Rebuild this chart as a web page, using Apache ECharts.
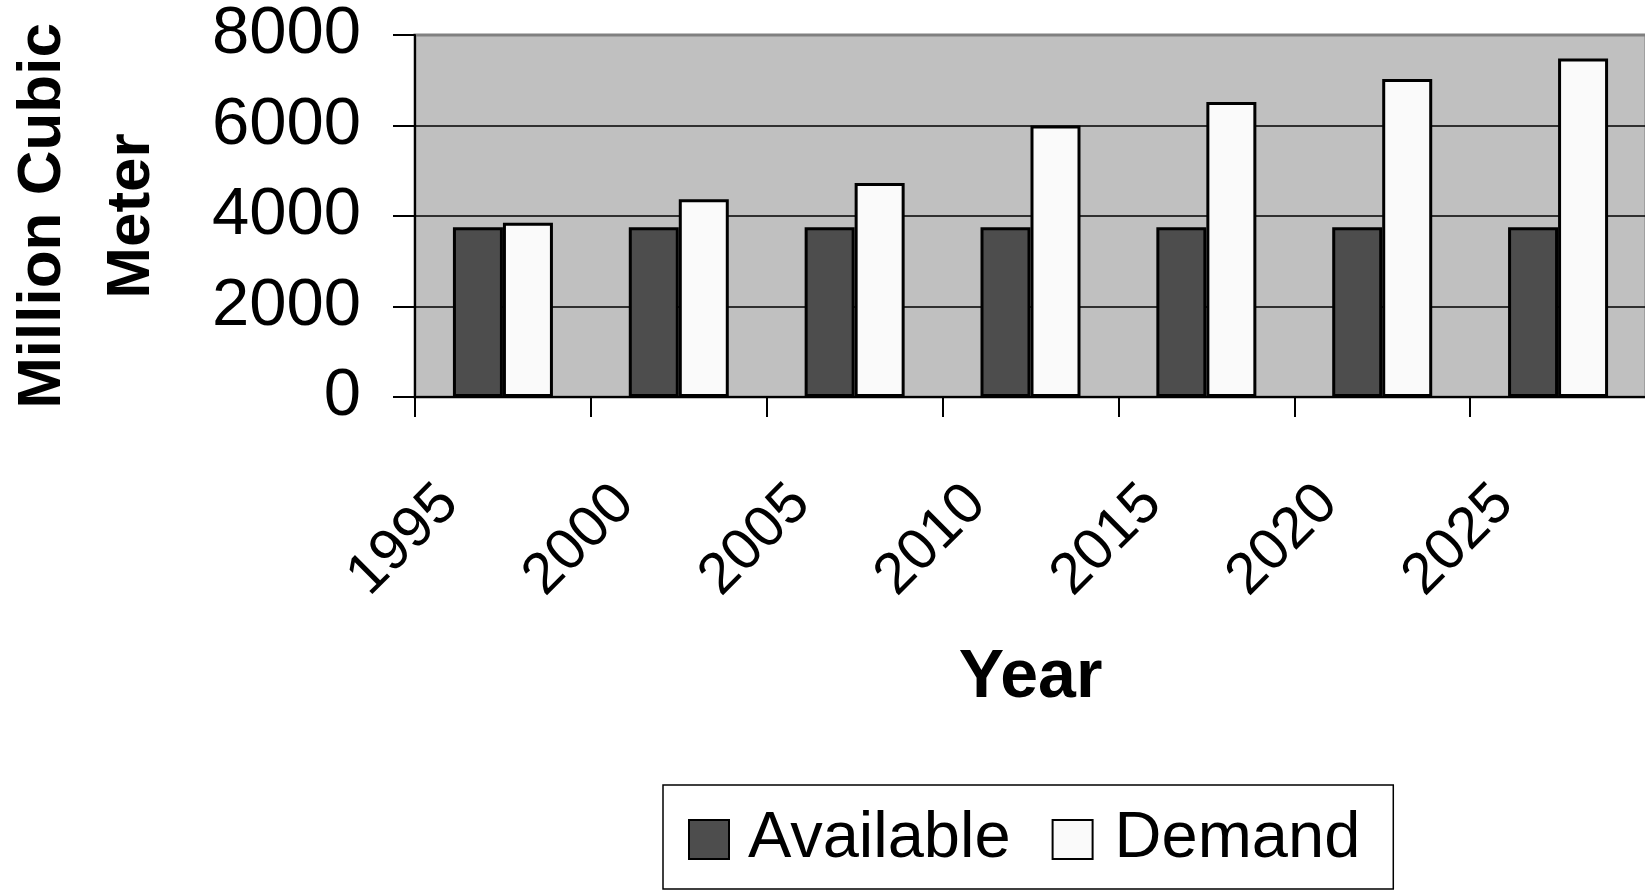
<!DOCTYPE html>
<html><head><meta charset="utf-8">
<script src="https://cdn.jsdelivr.net/npm/echarts@6/dist/echarts.min.js"></script>
<style>html,body{margin:0;padding:0;background:#fff}#c{width:1645px;height:891px}</style>
</head><body><div id="c"></div>
<script>
const years = ['1995', '2000', '2005', '2010', '2015', '2020', '2025'];
const available = [3750, 3750, 3750, 3750, 3750, 3750, 3750];
const demand = [3850, 4370, 4730, 6000, 6520, 7030, 7480];
const yTicks = [0, 2000, 4000, 6000, 8000];
const seriesNames = ['Available', 'Demand'];

const FONT = "'Liberation Sans', Arial, sans-serif";
const chart = echarts.init(document.getElementById('c'), null, {renderer: 'canvas'});
chart.setOption({
  backgroundColor: '#ffffff',
  animation: false,
  textStyle: {fontFamily: FONT, color: '#000'},
  grid: {
    left: 415, right: -1, top: 35, bottom: 494,
    containLabel: false, outerBoundsMode: 'none',
    show: true, backgroundColor: '#c0c0c0', borderColor: '#808080', borderWidth: 3
  },
  legend: {
    left: 663, top: 785,
    orient: 'horizontal',
    padding: [22, 33, 17, 25],
    itemWidth: 40, itemHeight: 39, itemGap: 41,
    borderColor: '#000', borderWidth: 1.5,
    icon: 'rect',
    itemStyle: {borderColor: '#000', borderWidth: 2},
    textStyle: {fontSize: 65, color: '#000', fontFamily: FONT},
    data: [
      {name: seriesNames[0], textStyle: {padding: [0, 0, 0, 14]}},
      {name: seriesNames[1], textStyle: {padding: [0, 0, 0, 17]}}
    ]
  },
  xAxis: {
    type: 'category',
    data: years,
    boundaryGap: true,
    name: 'Year',
    nameLocation: 'middle',
    nameGap: 247,
    nameTextStyle: {fontSize: 68, fontWeight: 'bold', color: '#000', fontFamily: FONT},
    axisLine: {show: true, lineStyle: {color: '#000', width: 2}},
    axisTick: {show: true, length: 20, lineStyle: {color: '#000', width: 2}, alignWithLabel: false},
    axisLabel: {
      rotate: 45, fontSize: 58, color: '#000', fontFamily: FONT,
      margin: 44, padding: [0, 76, 0, 0], interval: 0
    },
    splitLine: {show: false}
  },
  yAxis: {
    type: 'value',
    min: yTicks[0], max: yTicks[yTicks.length - 1], interval: yTicks[1] - yTicks[0],
    name: 'Million Cubic\nMeter',
    nameLocation: 'middle',
    nameGap: 239,
    nameTextStyle: {fontSize: 62, fontWeight: 'bold', color: '#000', fontFamily: FONT, lineHeight: 89, align: 'center'},
    axisLine: {show: true, lineStyle: {color: '#000', width: 2}},
    axisTick: {show: true, length: 22, lineStyle: {color: '#000', width: 2}},
    axisLabel: {fontSize: 67, color: '#000', fontFamily: FONT, margin: 54, formatter: v => String(v)},
    splitLine: {show: true, showMaxLine: false, lineStyle: {color: '#000', width: 1.5}}
  },
  series: [
    {
      name: seriesNames[0], type: 'bar', data: available,
      barWidth: 50, barGap: '0%',
      itemStyle: {color: '#4d4d4d', borderColor: '#000', borderWidth: 3}
    },
    {
      name: seriesNames[1], type: 'bar', data: demand,
      barWidth: 50, barGap: '0%',
      itemStyle: {color: '#fafafa', borderColor: '#000', borderWidth: 3}
    }
  ]
});
</script>
</body></html>
